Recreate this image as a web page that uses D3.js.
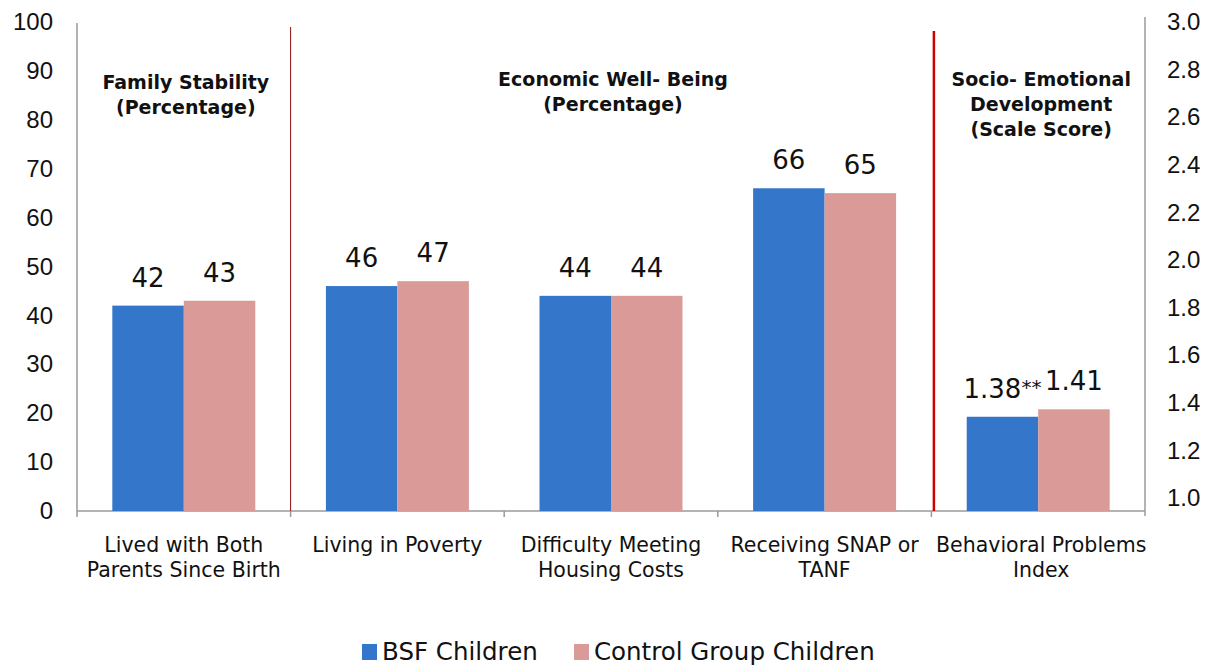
<!DOCTYPE html>
<html>
<head>
<meta charset="utf-8">
<script src="https://cdn.jsdelivr.net/npm/d3@7"></script>
<style>
  html, body { margin: 0; padding: 0; background: #fff; }
  svg { display: block; font-family: "DejaVu Sans", Verdana, sans-serif; }
</style>
</head>
<body>
<svg id="chart" width="1209" height="667"></svg>
<script>
// Outcome categories (two-line labels)
const categories = [
  ["Lived with Both", "Parents Since Birth"],
  ["Living in Poverty"],
  ["Difficulty Meeting", "Housing Costs"],
  ["Receiving SNAP or", "TANF"],
  ["Behavioral Problems", "Index"]
];
const categoryKeys = ["both", "poverty", "housing", "snap", "bpi"];
// Which axis each category is read against
const categoryAxis = ["left", "left", "left", "left", "right"];

const seriesNames = ["BSF Children", "Control Group Children"];
const seriesColors = ["#3476c9", "#d99a98"];

const bsfValues     = [42, 46, 44, 66, 1.38];
const controlValues = [43, 47, 44, 65, 1.41];
const bsfLabels     = ["42", "46", "44", "66", "1.38"];
const controlLabels = ["43", "47", "44", "65", "1.41"];
const bsfMarks      = ["", "", "", "", "**"];

const leftTicks  = [0, 10, 20, 30, 40, 50, 60, 70, 80, 90, 100];
const rightTicks = [1.0, 1.2, 1.4, 1.6, 1.8, 2.0, 2.2, 2.4, 2.6, 2.8, 3.0];

// Domain headings spanning groups of categories
const sections = [
  { from: 0, to: 0, lines: ["Family Stability", "(Percentage)"] },
  { from: 1, to: 3, lines: ["Economic Well- Being", "(Percentage)"] },
  { from: 4, to: 4, lines: ["Socio- Emotional", "Development", "(Scale Score)"] }
];

const svg = d3.select("#chart");
const plotLeft = 77, plotRight = 1145, base = 511, plotTop = 22;

const x = d3.scaleBand().domain(categoryKeys).range([plotLeft, plotRight]).padding(0);
const xs = d3.scaleBand().domain([0, 1]).range([0, x.bandwidth()])
  .paddingInner(0).paddingOuter(0.494);

const yL = d3.scaleLinear().domain([0, 100]).range([base, plotTop]);
const yR = d3.scaleLinear().domain([1, 3]).range([base, 15]);
// tick text placement on the secondary axis
const yRText = d3.scaleLinear().domain([1, 3]).range([498, 22]);

const axisColor = "#9a9a9a";
const tickFont = 24;

// Left axis
const gL = svg.append("g").attr("transform", `translate(${plotLeft},0)`)
  .call(d3.axisLeft(yL).tickValues(leftTicks).tickSize(0).tickPadding(24));
gL.select(".domain").remove();
gL.selectAll("text").attr("font-size", tickFont).attr("fill", "#111");
svg.append("line").attr("x1", plotLeft).attr("x2", plotLeft)
  .attr("y1", plotTop + 1).attr("y2", base + 6)
  .attr("stroke", axisColor).attr("stroke-width", 1.5);

// Right axis
const gR = svg.append("g").attr("transform", `translate(${plotRight},0)`)
  .call(d3.axisRight(yRText).tickValues(rightTicks).tickSize(0).tickPadding(22)
    .tickFormat(d3.format(".1f")));
gR.select(".domain").remove();
gR.selectAll("text").attr("font-size", tickFont).attr("fill", "#111");
svg.append("line").attr("x1", plotRight).attr("x2", plotRight)
  .attr("y1", 17).attr("y2", base + 5)
  .attr("stroke", axisColor).attr("stroke-width", 1.5);

// Baseline and category ticks
svg.append("line").attr("x1", plotLeft).attr("x2", plotRight)
  .attr("y1", base).attr("y2", base)
  .attr("stroke", axisColor).attr("stroke-width", 1.5);
svg.append("g").selectAll("line")
  .data(categoryKeys.slice(1))
  .join("line")
  .attr("x1", d => x(d)).attr("x2", d => x(d))
  .attr("y1", base).attr("y2", base + 6)
  .attr("stroke", axisColor).attr("stroke-width", 1.5);

// Section dividers
svg.append("line")
  .attr("x1", x(categoryKeys[1])).attr("x2", x(categoryKeys[1]))
  .attr("y1", 27).attr("y2", base)
  .attr("stroke", "#8e1010").attr("stroke-width", 1);
svg.append("line")
  .attr("x1", x(categoryKeys[4]) + 2.5).attr("x2", x(categoryKeys[4]) + 2.5)
  .attr("y1", 31).attr("y2", base)
  .attr("stroke", "#cc0000").attr("stroke-width", 2.5);

// Bars
const rows = categoryKeys.map((k, i) => ({
  key: k, axis: categoryAxis[i],
  vals: [bsfValues[i], controlValues[i]],
  labels: [bsfLabels[i], controlLabels[i]],
  marks: [bsfMarks[i], ""]
}));
const yFor = r => (r.axis === "left" ? yL : yR);

const groups = svg.append("g").selectAll("g")
  .data(rows).join("g")
  .attr("transform", d => `translate(${x(d.key)},0)`);

groups.selectAll("rect")
  .data(d => d.vals.map((v, j) => ({ v, j, s: yFor(d) })))
  .join("rect")
  .attr("x", d => xs(d.j))
  .attr("width", xs.bandwidth())
  .attr("y", d => d.s(d.v))
  .attr("height", d => base - d.s(d.v))
  .attr("fill", d => seriesColors[d.j]);

// Value labels
groups.selectAll("text.val")
  .data(d => d.vals.map((v, j) => ({ v, j, s: yFor(d), label: d.labels[j], mark: d.marks[j] })))
  .join("text")
  .attr("class", "val")
  .attr("x", d => xs(d.j) + xs.bandwidth() / 2)
  .attr("y", d => d.s(d.v) - 19)
  .attr("text-anchor", "middle")
  .attr("font-size", 26)
  .attr("fill", "#111")
  .each(function (d) {
    const t = d3.select(this);
    t.append("tspan").text(d.label);
    if (d.mark) {
      t.append("tspan").attr("font-size", 20).attr("dy", -4).text(d.mark);
    }
  });

// Category labels
svg.append("g").selectAll("text")
  .data(rows.map((r, i) => ({ key: r.key, lines: categories[i] })))
  .join("text")
  .attr("x", d => x(d.key) + x.bandwidth() / 2)
  .attr("text-anchor", "middle")
  .attr("font-size", 20.5)
  .attr("fill", "#111")
  .selectAll("tspan")
  .data(d => d.lines.map((l, i) => ({ l, i, cx: x(d.key) + x.bandwidth() / 2 + (d.key === "bpi" ? 3 : 0) })))
  .join("tspan")
  .attr("x", d => d.cx)
  .attr("y", d => 552 + d.i * 25)
  .text(d => d.l);

// Section headings
svg.append("g").selectAll("text")
  .data(sections)
  .join("text")
  .attr("text-anchor", "middle")
  .attr("font-size", 19)
  .attr("font-weight", "bold")
  .attr("fill", "#111")
  .each(function (s) {
    const cx = (x(categoryKeys[s.from]) + x(categoryKeys[s.to]) + x.bandwidth()) / 2;
    const y0 = s.from === 0 ? 89 : 86;
    d3.select(this).selectAll("tspan")
      .data(s.lines).join("tspan")
      .attr("x", cx + (s.from === 4 ? 3 : 2))
      .attr("y", (d, i) => y0 + i * 25)
      .text(d => d);
  });

// Legend
const legend = svg.append("g");
const legendX = [362, 574];
seriesNames.forEach((name, i) => {
  legend.append("rect")
    .attr("x", legendX[i]).attr("y", 644)
    .attr("width", 15).attr("height", 16)
    .attr("fill", seriesColors[i]);
  legend.append("text")
    .attr("x", legendX[i] + 20).attr("y", 660)
    .attr("font-size", 24.5).attr("fill", "#111")
    .text(name);
});
</script>
</body>
</html>
